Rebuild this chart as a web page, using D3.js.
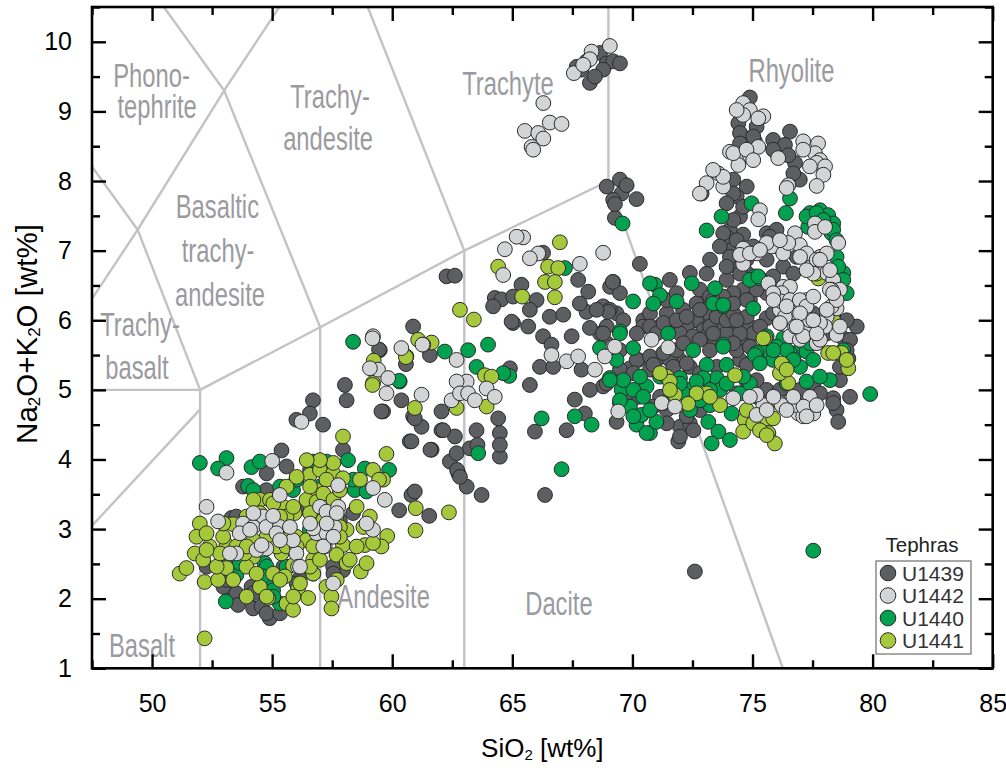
<!DOCTYPE html>
<html>
<head>
<meta charset="utf-8">
<script src="https://cdn.jsdelivr.net/npm/d3@7"></script>
<style>
  body { margin: 0; background: #fff; }
  svg { display: block; }
</style>
</head>
<body>
<svg id="chart" width="1006" height="771"></svg>
<script>
// ---- Data: SiO2 [wt%], Na2O+K2O [wt%] per tephra site ----
const seriesNames = ["U1439", "U1442", "U1440", "U1441"];

const u1439 = [
  [67.68,9.64],[68.09,9.72],[68.23,9.41],[68.65,9.84],[68.93,9.69],[69.2,9.72],[69.48,9.69],[68.78,9.6],[67.88,9.6],[68.44,9.5],
  [68.93,7.92],[69.48,8.02],[69.55,7.82],[70.17,7.74],[69.2,7.73],[69.27,7.47],[69.76,7.94],[69.27,7.67],[70.31,6.81],
  [74.89,9.2],[74.41,8.83],[75.17,8.78],[74.76,8.61],[75.1,8.57],[75.86,8.59],[76.56,8.71],[76.35,8.52],[76.77,8.26],[76.49,8.37],
  [76.97,8.02],[72.88,7.82],[74.2,8.02],[74.76,7.92],[74.34,7.78],[74.48,7.49],[74.06,7.3],[74.61,7.23],[74.2,7.06],[75.59,7.25],
  [76.0,7.3],[76.84,6.91],[74.76,6.68],[75.59,6.39],[74.61,6.44],[74.89,6.29],[74.06,6.05],[73.23,6.05],[73.65,5.91],[74.48,5.72],
  [74.89,5.91],[72.88,6.0],[73.02,6.29],[77.53,6.1],[79.34,5.91],[78.78,5.74],[73.92,7.2],
  [69.2,6.55],[72.39,6.68],[72.11,6.15],[72.67,6.0],[73.23,6.08],[71.43,6.1],[70.45,6.0],[69.34,6.1],[68.78,6.2],[68.93,5.91],
  [69.9,5.31],[70.45,5.91],[72.26,5.91],[72.95,5.86],[73.65,5.88],[74.2,5.86],[78.64,5.14],[79.06,4.9],[78.5,4.71],[78.57,4.54],
  [71.91,4.26],[69.34,4.54],[68.78,5.05],[72.67,6.24],[72.81,6.44],[71.63,5.91],[71.0,5.43],[71.98,5.43],[74.48,5.43],[75.59,6.03],
  [75.17,6.44],[74.76,6.29],[74.2,6.79],[71.98,4.47],
  [69.06,6.15],[69.48,5.57],[70.24,5.43],[70.73,5.29],[71.56,5.43],[72.39,5.33],[72.81,5.24],[73.09,5.77],[73.44,5.72],[73.92,5.81],
  [74.06,6.0],[74.34,5.57],[75.03,5.81],[75.31,5.91],[74.76,5.12],[74.34,4.95],[72.81,4.71],[72.39,4.52],[71.43,4.71],[70.24,4.9],
  [69.48,4.81],[68.93,5.09],[70.73,6.1],[71.15,5.91],[71.98,5.81],[72.53,5.77],[73.23,6.34],[71.43,6.29],[70.73,5.91],[75.86,6.1],
  [77.53,5.05],[78.36,4.88],[78.99,5.45],[79.06,5.72],
  [68.65,5.81],[69.62,6.0],[70.18,5.81],[71.01,5.81],[71.29,5.96],[71.84,6.0],[72.26,6.05],[72.81,6.15],[73.23,5.91],[73.51,6.05],
  [73.92,6.0],[74.2,6.1],[74.48,5.81],[74.76,6.05],[70.18,5.43],[70.73,5.48],[71.29,5.53],[71.84,5.57],[72.12,5.67],[72.81,5.72],
  [73.23,5.57],[74.2,5.67],[74.89,5.62],[69.48,5.29],[70.04,5.24],[70.87,5.36],[71.7,5.33],[72.26,5.38],[73.51,5.33],[74.76,5.36],
  [69.76,4.95],[71.15,4.9],[71.7,5.0],[72.26,4.62],[72.54,4.42],[71.43,4.52],[70.87,4.76],[71.98,4.33],[69.07,6.48],[69.48,6.39],
  [71.56,6.58],[71.84,6.39],[73.92,6.58],[74.2,6.39],[68.93,5.67],[75.17,5.14],[75.59,5.0],[76.14,5.0],[76.98,5.0],[77.81,4.95],
  [78.36,4.81],[78.09,5.81],[78.92,5.57],[78.64,5.33],
  [74.2,7.82],[74.61,7.63],[73.92,7.68],[74.2,7.44],[73.78,7.25],[74.34,7.15],[73.64,7.06],[74.06,6.91],[74.75,6.87],[74.48,6.67],
  [73.92,6.77],[73.09,6.67],[73.23,6.87],[75.72,7.2],[76.0,7.06],[76.28,6.77],[75.59,6.87],[76.7,6.67],[75.86,6.63],[75.03,7.06],
  [75.86,8.45],[76.7,8.11],[74.48,8.69],[75.03,8.64],[74.48,8.54],[73.78,6.34],[74.2,6.24],[73.36,6.29],[74.34,6.0],[73.36,5.81],
  [74.89,5.62],[76.14,5.96],[76.7,6.1],[78.92,6.0],
  [67.74,6.58],[69.18,6.55],[65.38,6.51],[64.27,6.32],[64.55,6.3],[64.2,6.2],[65.03,6.34],[66.01,6.29],[65.73,6.15],[65.03,5.96],
  [65.66,5.91],[66.56,6.05],[67.12,6.08],[68.16,6.41],[68.09,6.12],[69.0,6.12],[66.28,5.77],[66.63,5.65],[66.15,5.33],[66.7,5.33],
  [67.47,5.77],[68.23,5.89],[68.78,5.81],[67.88,5.29],[68.23,5.0],[67.6,4.86],[68.02,4.66],[67.26,4.42],[65.94,4.4],[66.36,3.49],
  [65.73,5.07],[64.9,5.31],[64.41,4.59],[64.48,4.38],[64.48,4.04],[63.23,4.16],[63.72,3.49],[63.1,3.61],[62.75,3.8],[62.4,3.97],
  [62.68,4.09],[63.51,4.42],[62.61,4.33],[62.05,4.42],[61.64,4.14],[60.73,4.26],[61.22,4.47],[60.87,4.62],[62.05,4.69],[59.62,4.69],
  [60.87,5.91],[62.26,6.63],[62.61,6.64],[61.57,5.5],[59.48,5.57],[60.38,4.85],[67.81,6.24],[68.51,6.15],[64.97,5.98],[66.28,6.97],
  [59.45,5.58],[60.57,5.37],[60.8,4.26],[58.03,5.07],[59.55,4.69],
  [60.94,4.59],[62.12,4.42],[61.59,4.14],[63.55,4.21],[64.48,4.21],[62.7,3.85],[62.82,3.75],[60.8,3.49],[60.94,3.54],[60.29,3.27],[61.54,3.19],
  [72.6,2.39],
  [56.7,4.85],[58.1,4.85],[56.57,4.66],[56.01,4.57],[57.12,4.5],[57.95,4.14],[55.39,4.13],[53.79,3.61],[53.31,3.16],[55.04,3.06],
  [57.95,2.41],[52.27,2.46],[53.03,2.51],[53.31,2.12],[53.51,2.08],[53.58,1.91],[54.21,1.86],[54.56,1.89],[54.9,1.72],[54.14,2.17],
  [56.15,2.29],[58.37,3.23],[57.54,2.46],[56.01,3.71],[54.76,3.56],[53.51,3.18],[57.4,3.87],[56.15,2.84],
  [56.71,2.36],[57.55,2.36],[56.02,2.22],[55.47,2.46],[52.97,2.17],[53.11,2.27],[54.22,2.08],[54.77,1.79],[55.33,1.79],[56.02,3.27],
  [54.77,3.13],[53.24,2.56],[57.82,3.13],[56.58,3.85],[54.77,3.8],[55.6,3.9]
];

const u1442 = [
  [69.06,9.94],[68.3,9.86],[68.23,9.75],[67.56,9.55],[67.95,9.67],
  [66.29,9.12],[65.52,8.72],[66.08,8.69],[66.56,8.84],[67.05,8.82],[66.29,8.61],[65.8,8.49],[65.87,8.45],
  [74.61,9.12],[74.89,9.02],[75.45,8.93],[74.61,8.95],[74.06,8.42],[74.48,8.33],[74.89,8.37],[75.24,8.49],[74.41,8.23],[76.07,8.33],
  [77.11,8.57],[77.73,8.54],[77.6,8.4],[77.81,8.3],[77.67,8.26],[78.02,8.21],[77.95,8.09],[77.67,7.93],[76.49,7.94],[76.42,7.9],
  [73.57,8.11],[73.09,7.97],[73.78,7.92],[75.31,7.58],[75.24,7.45],[74.61,7.03],[75.8,7.06],[76.28,6.96],[76.77,7.25],[76.97,7.08],
  [75.17,6.96],[74.61,6.81],[77.6,7.39],[77.6,7.27],[78.02,7.34],[76.49,7.11],[77.39,6.87],[77.81,6.91],[78.09,6.96],[77.74,6.75],
  [78.09,6.68],[78.57,7.11],[78.36,6.58],[78.64,6.44],[78.29,6.44],[78.5,6.17],[78.09,6.05],[78.5,5.79],[78.02,5.91],[77.47,5.91],
  [77.67,5.67],[76.0,6.39],[76.28,6.48],[76.56,6.48],[76.14,6.15],[76.84,6.1],[77.11,5.91],[76.56,5.77],[76.97,5.72],[72.81,7.82],
  [74.48,6.94],[75.66,6.53],[76.21,6.39],[77.25,6.29],[77.53,6.82],[78.22,6.44],[77.39,5.86],[77.81,5.72],[76.97,6.27],
  [74.2,8.4],[74.75,8.45],[75.03,8.3],[73.78,8.06],[73.36,8.16],[74.34,9.02],[75.24,8.9],[77.11,8.45],[77.39,8.21],
  [75.59,7.11],[76.14,7.15],[74.89,6.96],[75.31,7.01],[77.25,6.96],[77.67,6.87],[77.53,6.67],[76.21,6.27],[76.56,6.29],[76.97,6.29],
  [77.25,6.2],[77.39,6.0],[77.81,5.96],[78.29,6.2],[78.5,6.29],[78.36,6.39],[76.35,6.05],[76.77,5.91],[77.11,5.77],[77.67,5.81],
  [75.86,6.39],[75.87,6.29],[76.42,6.2],[76.98,6.1],[77.53,6.0],[76.84,5.91],[76.14,5.96],[77.53,6.34],[78.09,6.15],[78.64,5.91],
  [78.23,6.72],[77.81,6.87],[76.98,6.91],[77.25,6.72],
  [69.2,5.62],[68.85,5.48],[70.8,5.72],[71.49,5.61],[77.39,4.9],[77.53,4.66],[76.97,4.78],[76.42,4.81],[76.91,4.66],[75.45,4.78],
  [75.17,4.93],[75.17,4.64],[76.14,4.81],[74.2,4.88],[69.41,4.69],[71.22,4.81],[71.77,4.76],[76.21,4.78],[76.84,4.78],[77.11,4.62],
  [74.89,4.9],[75.87,4.9],[76.42,4.71],[77.12,4.76],[77.67,4.78],[77.25,4.62],[76.7,4.9],[75.59,4.71],
  [68.78,6.97],[67.81,6.81],[65.45,7.19],[65.18,7.2],[64.69,7.02],[66.08,6.96],[65.73,6.89],[64.62,6.65],[66.63,5.5],[67.26,5.41],
  [67.74,5.48],[69.27,5.62],[68.44,5.29],[61.29,5.65],[60.38,5.6],[59.2,5.77],[59.41,5.29],[59.83,5.17],[59.76,4.95],[62.68,5.43],
  [63.1,5.12],[62.68,5.12],[62.47,4.85],[62.82,4.95],[63.16,4.95],[63.44,4.85],[63.93,5.02],[64.27,4.9],[61.22,4.93],
  [59.18,5.74],[59.07,5.31],[61.26,5.65],[59.69,3.42],
  [56.22,4.54],[53.1,3.81],[55.0,3.98],[57.75,3.63],[59.2,3.59],[52.27,3.32],[55.32,3.49],[54.62,3.18],[52.75,3.11],[53.79,3.08],
  [56.99,3.32],[57.26,3.25],[57.75,3.32],[56.85,2.94],[57.26,2.94],[57.19,2.75],[57.54,2.22],[59.2,2.99],[56.01,2.65],[54.76,2.72],
  [54.35,2.7],[53.51,2.65],[53.65,2.94],[54.21,3.03],[54.76,3.03],[55.32,3.03],[55.18,2.94],[54.56,2.77],[55.87,2.84],[56.71,3.01],
  [55.04,3.19],[56.08,2.46],[57.6,3.03],
  [55.33,2.84],[55.74,3.03],[53.24,2.65],[54.08,2.99],[54.22,3.23],[56.58,3.08],[57.27,3.08],[57.69,3.23],[57.13,2.75],[57.55,2.89],
  [56.16,2.46],[58.93,3.08]
];

const u1440 = [
  [69.59,7.39],[76.56,7.75],[76.39,7.54],[74.96,7.68],[73.71,7.49],[73.09,7.29],[75.1,6.63],[75.31,6.6],[77.39,7.54],[77.81,7.58],
  [78.15,7.51],[78.36,7.39],[77.32,7.34],[78.29,7.25],[78.5,6.91],[78.78,6.68],[75.03,6.17],[73.44,6.46],[73.78,6.2],[73.78,5.65],
  [75.59,5.77],[75.45,5.57],[76.28,5.74],[76.97,5.57],[77.25,5.55],
  [77.25,7.49],[77.67,7.54],[77.95,7.44],[78.36,7.3],[78.5,7.15],[78.57,6.77],[78.78,6.58],[78.92,6.39],[74.89,6.58],[73.36,6.24],
  [76.0,5.62],[75.17,5.53],[76.56,5.53],[77.39,5.67],
  [72.47,6.53],[70.94,6.51],[71.15,6.36],[70.03,6.27],[71.84,6.27],[73.78,6.22],[75.24,6.63],[69.48,5.84],[70.03,5.6],[71.49,5.81],
  [72.53,5.57],[73.09,5.36],[73.78,5.62],[73.92,5.36],[75.1,5.5],[75.86,5.43],[76.42,5.57],[78.22,5.14],[77.25,5.12],[79.9,4.94],
  [73.51,5.17],[72.95,5.17],[73.23,4.78],[74.13,4.66],[73.16,4.54],[73.58,4.4],[74.06,4.28],[73.3,4.23],[70.73,4.38],[70.17,4.5],
  [71.0,4.54],[70.38,4.64],[69.9,4.76],[70.59,5.05],[69.55,5.0],[69.06,5.17],[71.98,5.17],[72.26,5.0],[78.36,6.08],[78.78,5.57],
  [70.87,6.24],[70.73,6.53],
  [69.34,5.43],[70.04,5.0],[70.45,4.9],[69.48,4.85],[70.73,4.71],[70.04,4.62],[70.59,4.38],[71.29,4.81],[72.12,4.95],[72.4,4.71],
  [72.81,4.85],[73.65,5.0],[74.48,4.95],[74.89,5.09],[75.17,4.9],[75.87,4.9],[76.42,5.09],[76.98,5.33],[77.53,5.43],[77.81,5.19],
  [76.7,5.43],[75.87,5.57],[75.31,5.38],[74.62,5.19],[73.92,5.09],[73.23,5.0],[72.67,5.12],[71.98,5.09],[71.15,5.19],[70.32,5.19],
  [69.62,5.14],
  [67.19,6.75],[69.48,5.81],[68.65,5.6],[69.06,5.14],[67.6,4.62],[68.3,4.5],[66.22,4.59],[67.05,3.86],[64.87,5.2],[63.58,4.09],
  [60.31,5.12],[62.19,5.55],[63.16,5.57],[63.99,5.65],[63.51,5.33],[64.62,5.24],
  [58.37,5.69],[60.29,5.13],[59.87,3.85],[77.53,2.69],
  [51.99,3.95],[53.1,4.02],[52.75,3.87],[54.14,3.89],[54.49,3.97],[54.0,3.62],[55.87,3.56],[56.71,3.97],[57.26,3.97],[58.16,3.99],
  [58.86,3.87],[58.44,3.56],[58.93,3.54],[53.51,2.34],[53.07,1.96],[55.32,1.93],[54.9,2.27],[54.69,2.51],[53.65,2.51],[57.54,3.13],
  [55.25,3.32],[56.57,2.99],[55.32,2.32],[55.04,2.12],
  [54.22,3.56],[56.71,3.08],[55.6,2.46],[54.77,2.46],[55.05,2.03],[53.66,3.03],[56.02,3.71],[56.99,3.61],[57.55,3.71],[58.38,3.71],
  [55.33,3.61],[54.63,2.32]
];

const u1441 = [
  [77.74,6.6],[78.29,5.91],[75.52,5.74],[78.15,5.53],[78.71,5.53],[75.45,5.74],[78.99,5.31],[76.28,5.36],[76.49,5.1],[76.14,5.24],
  [74.68,4.57],[74.61,4.4],[75.59,4.59],[75.86,4.59],[75.66,4.38],[75.93,4.23],[74.27,5.21],[73.09,4.95],[72.67,4.95],[72.32,4.8],
  [73.65,4.78],[71.77,4.93],[71.43,5.19],[71.56,5.12],
  [71.15,5.24],[71.56,5.0],[73.23,4.9],[76.21,5.38],[76.42,5.29],[74.76,4.71],[75.03,4.52],[75.31,4.42],[75.59,4.35],[78.36,5.53],
  [78.92,5.43],[77.67,6.67],[78.36,6.0],[78.5,5.86],
  [66.98,7.12],[66.49,6.77],[66.91,6.75],[64.41,6.77],[66.36,6.55],[66.77,6.55],[66.77,6.33],[65.41,6.34],[62.82,6.15],[63.4,6.01],
  [61.08,5.72],[61.64,5.68],[60.59,5.48],[59.2,5.1],[63.86,5.21],[64.13,5.19],[63.93,4.76],[62.68,4.74],[60.94,4.74],
  [59.23,5.42],[59.18,5.07],[60.57,5.47],[59.76,4.08],
  [59.62,3.71],[60.98,3.3],[62.36,3.24],[60.97,2.98],[59.79,2.9],[59.55,2.75],
  [57.95,4.33],[56.57,3.78],[56.99,3.85],[57.54,3.8],[57.95,3.73],[59.2,3.85],[56.85,3.56],[57.26,3.71],[54.49,3.42],[55.46,3.32],
  [51.99,3.08],[53.37,3.07],[54.35,3.13],[55.94,3.23],[56.43,3.42],[57.68,3.18],[58.1,2.99],[57.26,3.03],[57.95,2.77],[57.68,2.63],
  [58.1,2.51],[56.71,2.36],[57.26,2.17],[57.47,2.03],[57.47,1.86],[58.69,2.39],[58.93,2.51],[58.86,2.77],[59.07,3.18],[59.2,2.8],
  [55.39,2.65],[55.87,2.48],[56.71,2.56],[55.04,2.36],[54.21,2.6],[53.1,2.77],[52.4,2.75],[51.85,2.89],[51.78,2.65],[52.13,2.56],
  [51.15,2.36],[51.43,2.44],[52.19,2.24],[52.75,2.27],[54.83,2.01],[55.6,1.93],[55.87,1.84],[55.53,2.32],[56.08,2.15],[56.5,2.01],
  [53.93,2.46],[53.1,2.44],[53.86,2.65],[53.51,2.75],[52.27,2.94],[52.96,2.89],[52.19,1.43],[55.6,3.18],[55.46,2.99],[56.01,2.89],
  [56.43,2.84],[56.71,3.13],[56.85,3.39],[57.82,3.03],[58.23,2.56],
  [54.22,3.42],[54.91,3.42],[55.88,3.32],[56.58,3.23],[57.13,3.51],[57.55,3.42],[57.82,3.56],[58.66,3.71],[57.55,3.95],[56.99,3.99],
  [56.44,3.99],[56.58,3.61],[55.33,3.18],[54.77,2.89],[54.22,2.84],[53.94,2.75],[55.19,2.75],[55.6,2.75],[56.02,2.75],[56.71,2.75],
  [56.58,2.46],[56.99,2.56],[56.16,2.22],[55.33,2.27],[54.49,2.17],[54.77,2.03],[53.94,2.03],[54.35,2.36],[53.38,2.27],[52.69,2.46],
  [52.83,2.65],[52.27,2.7],[52.97,3.08],[53.94,3.18],[54.49,3.23],[55.05,3.37],[55.6,3.61],[56.02,3.75],[57.13,3.13],[57.82,2.89],
  [58.52,2.75],[58.8,3.03],[58.52,3.32],[59.45,3.71],[57.69,2.27],[55.88,2.03]
];

// Axis ticks
const xTicks = [50, 55, 60, 65, 70, 75, 80, 85];
const xMinorTicks = [47.5, 52.5, 57.5, 62.5, 67.5, 72.5, 77.5, 82.5];
const yTicks = [1, 2, 3, 4, 5, 6, 7, 8, 9, 10];
const yMinorTicks = [1.5, 2.5, 3.5, 4.5, 5.5, 6.5, 7.5, 8.5, 9.5, 10.5];

// TAS classification boundaries (Le Bas et al., 1986)
const tasBoundaries = [
  [[45,5],[49.4,7.3],[53,9.3],[57.6,11.7],[61,13.5]],
  [[45,9.4],[49.4,7.3],[52,5]],
  [[48.4,11.5],[53,9.3],[57,5.9]],
  [[57.6,11.7],[63,7]],
  [[45,5],[52,5]],
  [[52,0],[52,5],[57,5.9],[63,7],[69,8],[69,14]],
  [[57,0],[57,5.9]],
  [[63,0],[63,7]],
  [[69,8],[77.3,0]],
  [[45,2.12],[52,4.72]]
];

const fieldNames = ["Phono-","tephrite","Trachy-","andesite","Trachyte","Rhyolite","Basaltic","trachy-","andesite",
                    "Trachy-","basalt","Andesite","Dacite","Basalt"];
// label anchor points (SiO2, alkali) for the field names above
const fieldAnchors = [[49.98,9.35],[50.21,8.91],[57.41,9.05],[57.33,8.45],[64.82,9.24],[76.62,9.42],[52.72,7.47],[52.75,6.84],
                      [52.83,6.21],[49.5,5.77],[49.37,5.16],[59.64,1.87],[66.94,1.77],[49.58,1.16]];

// ---- Layout & styles ----
const svg = d3.select("#chart");
const W = 1006, H = 771;
const plot = { left: 92, right: 992.7, top: 7, bottom: 668.3 };
const colors = { U1439: "#5d5e61", U1442: "#d3d4d6", U1440: "#00a24f", U1441: "#a6c93c" };
const drawOrder = ["U1439", "U1440", "U1441", "U1442"];
const seriesData = { U1439: u1439, U1442: u1442, U1440: u1440, U1441: u1441 };

svg.append("rect").attr("width", W).attr("height", H).attr("fill", "#fff");

const x = d3.scaleLinear().domain([47.5, 85]).range([plot.left, plot.right]);
const y = d3.scaleLinear().domain([1, 10.5]).range([plot.bottom, plot.top]);

svg.append("clipPath").attr("id", "plotClip")
  .append("rect")
  .attr("x", plot.left).attr("y", plot.top)
  .attr("width", plot.right - plot.left).attr("height", plot.bottom - plot.top);

// boundary lines
const line = d3.line().x(d => x(d[0])).y(d => y(d[1]));
svg.append("g").attr("clip-path", "url(#plotClip)")
  .selectAll("path").data(tasBoundaries).join("path")
  .attr("d", line)
  .attr("fill", "none")
  .attr("stroke", "#c3c3c7")
  .attr("stroke-width", 2.4)
  .attr("stroke-linejoin", "round");

// field names, set in a condensed face
svg.append("g")
  .selectAll("text").data(fieldNames).join("text")
  .attr("transform", (d, i) => `translate(${x(fieldAnchors[i][0])},${y(fieldAnchors[i][1])}) scale(0.7,1)`)
  .attr("text-anchor", "middle")
  .attr("font-family", "'Liberation Sans', Arial, sans-serif")
  .attr("font-size", 34)
  .attr("fill", "#9b9b9f")
  .text(d => d);

// sample points
const pts = svg.append("g").attr("clip-path", "url(#plotClip)");
drawOrder.forEach(name => {
  pts.append("g").selectAll("circle").data(seriesData[name]).join("circle")
    .attr("cx", d => x(d[0]))
    .attr("cy", d => y(d[1]))
    .attr("r", 7.4)
    .attr("fill", colors[name])
    .attr("stroke", "#2b2b2b")
    .attr("stroke-width", 1);
});

// axes
const axisFont = "'Liberation Sans', Arial, Helvetica, sans-serif";
function styleAxis(g) {
  g.select(".domain").remove();
  g.selectAll(".tick line").attr("stroke", "#000").attr("stroke-width", 2.4);
  g.selectAll("text").attr("font-family", axisFont).attr("font-size", 25).attr("fill", "#000");
}
const majorLen = 14, minorLen = 8;

// bottom
svg.append("g").attr("transform", `translate(0,${plot.bottom})`)
  .call(d3.axisBottom(x).tickValues(xTicks).tickSize(-majorLen).tickPadding(26).tickFormat(d3.format("d")))
  .call(styleAxis);
svg.append("g").attr("transform", `translate(0,${plot.bottom})`)
  .call(d3.axisBottom(x).tickValues(xMinorTicks).tickSize(-minorLen).tickFormat(""))
  .call(styleAxis);
// top
svg.append("g").attr("transform", `translate(0,${plot.top})`)
  .call(d3.axisTop(x).tickValues(xTicks).tickSize(-majorLen).tickFormat(""))
  .call(styleAxis);
svg.append("g").attr("transform", `translate(0,${plot.top})`)
  .call(d3.axisTop(x).tickValues(xMinorTicks).tickSize(-minorLen).tickFormat(""))
  .call(styleAxis);
// left
svg.append("g").attr("transform", `translate(${plot.left},0)`)
  .call(d3.axisLeft(y).tickValues(yTicks).tickSize(-majorLen).tickPadding(20).tickFormat(d3.format("d")))
  .call(styleAxis);
svg.append("g").attr("transform", `translate(${plot.left},0)`)
  .call(d3.axisLeft(y).tickValues(yMinorTicks).tickSize(-minorLen).tickFormat(""))
  .call(styleAxis);
// right
svg.append("g").attr("transform", `translate(${plot.right},0)`)
  .call(d3.axisRight(y).tickValues(yTicks).tickSize(-majorLen).tickFormat(""))
  .call(styleAxis);
svg.append("g").attr("transform", `translate(${plot.right},0)`)
  .call(d3.axisRight(y).tickValues(yMinorTicks).tickSize(-minorLen).tickFormat(""))
  .call(styleAxis);

// frame
svg.append("rect")
  .attr("x", plot.left).attr("y", plot.top)
  .attr("width", plot.right - plot.left).attr("height", plot.bottom - plot.top)
  .attr("fill", "none").attr("stroke", "#000").attr("stroke-width", 2.6);

// axis titles
const xt = svg.append("text")
  .attr("x", (plot.left + plot.right) / 2)
  .attr("y", 757)
  .attr("text-anchor", "middle")
  .attr("font-family", axisFont).attr("font-size", 26).attr("fill", "#000");
xt.append("tspan").text("SiO");
xt.append("tspan").attr("font-size", 15).attr("dy", 3).text("2");
xt.append("tspan").attr("dy", -3).text(" [wt%]");

const yt = svg.append("text")
  .attr("transform", `translate(37,334) rotate(-90)`)
  .attr("text-anchor", "middle")
  .attr("font-family", axisFont).attr("font-size", 29.5).attr("fill", "#000");
yt.append("tspan").text("Na");
yt.append("tspan").attr("font-size", 17).attr("dy", 3).text("2");
yt.append("tspan").attr("dy", -3).text("O+K");
yt.append("tspan").attr("font-size", 17).attr("dy", 3).text("2");
yt.append("tspan").attr("dy", -3).text("O [wt%]");

// legend
const lg = svg.append("g");
lg.append("text")
  .attr("x", 922).attr("y", 552)
  .attr("text-anchor", "middle")
  .attr("font-family", axisFont).attr("font-size", 20.5).attr("fill", "#222")
  .text("Tephras");
lg.append("rect")
  .attr("x", 876).attr("y", 561).attr("width", 95).attr("height", 93)
  .attr("fill", "#fff").attr("stroke", "#6e6e6e").attr("stroke-width", 1.2);
const items = lg.selectAll("g.item").data(seriesNames).join("g")
  .attr("class", "item")
  .attr("transform", (d, i) => `translate(888,${573 + i * 22.5})`);
items.append("circle").attr("r", 7.8)
  .attr("fill", d => colors[d]).attr("stroke", "#2b2b2b").attr("stroke-width", 1);
items.append("text").attr("x", 14).attr("y", 7.5)
  .attr("font-family", axisFont).attr("font-size", 21).attr("fill", "#333")
  .text(d => d);
</script>
</body>
</html>
